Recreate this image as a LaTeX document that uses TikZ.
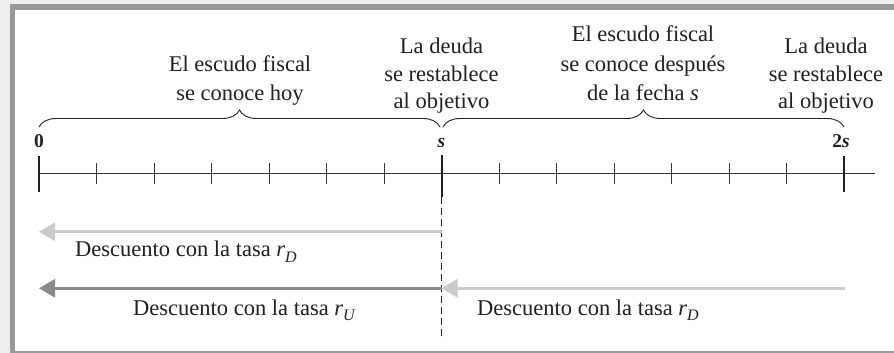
\documentclass[tikz,border=0pt]{standalone}
\usepackage{fontspec}
\setmainfont{Liberation Serif}
\usetikzlibrary{arrows.meta,decorations.pathreplacing}
\definecolor{bgcol}{HTML}{EEEEEE}
\definecolor{framecol}{HTML}{999999}
\definecolor{lightarr}{HTML}{CBCBCB}
\definecolor{darkarr}{HTML}{8A8A8A}
\definecolor{inkcol}{HTML}{231F20}
\newcommand{\lowsub}[1]{\raisebox{-0.25em}{\fontsize{16}{16}\selectfont\itshape #1}}
\begin{document}
\begin{tikzpicture}[x=1pt,y=-1pt,
  lbl/.style={inner sep=0pt, font=\fontsize{22.5}{26}\selectfont, text=inkcol},
  num/.style={inner sep=0pt, font=\fontsize{19.5}{22}\selectfont\bfseries, text=inkcol},
  axisline/.style={draw=inkcol!90, line width=1.3pt},
  minortick/.style={draw=inkcol!90, line width=1pt},
  majortick/.style={draw=inkcol, line width=2pt},
  bracestyle/.style={draw=inkcol, line width=0.9pt, decorate, decoration={brace, amplitude=17pt}},
  dashline/.style={draw=inkcol, line width=1pt, dash pattern=on 7pt off 4pt},
  lightarrow/.style={draw=lightarr, line width=3pt, -{Triangle[length=16pt,width=18pt]}},
  darkarrow/.style={draw=darkarr, line width=3pt, -{Triangle[length=16pt,width=18pt]}}
]
\fill[bgcol] (0,0) rectangle (894,353);
\useasboundingbox (0,0) rectangle (894,353);
\fill[framecol] (10,4) rectangle (894,353);
\fill[white] (15,10) rectangle (894,350.5);

% axis
\coordinate (A0) at (39,173.3);
\coordinate (AS) at (441.5,173.3);
\coordinate (A2) at (844,173.3);
\coordinate (AE) at (875,173.3);
\draw[axisline] (A0) -- (AE);
\foreach \k in {1,...,6,8,9,10,11,12,13}
  \draw[minortick] ({39+57.5*\k},163) -- ({39+57.5*\k},183.5);
\draw[majortick] (39,156) -- (39,191.5);
\draw[majortick] (844,156) -- (844,191.5);
\draw[majortick] (441.5,155) -- (441.5,197);
\coordinate (Dtop) at (441.5,197);
\coordinate (Dbot) at (441.5,340);
\draw[dashline] (Dtop) -- (Dbot);

% numbers
\node[num, anchor=base] (n0) at (39,147.5) {0};
\node[num, anchor=base] (ns) at (441.5,147.5) {\textit{s}};
\node[num, anchor=base] (n2s) at (841,147.5) {2\textit{s}};

% braces
\coordinate (B1a) at (39,127);
\coordinate (B1b) at (440,127);
\coordinate (B2a) at (443,127);
\coordinate (B2b) at (844,127);
\draw[bracestyle] (B1a) -- (B1b);
\draw[bracestyle] (B2a) -- (B2b);

% top texts
\node[lbl, anchor=base] (t1a) at (240,71.5) {El escudo fiscal};
\node[lbl, anchor=base] (t1b) at (240,100) {se conoce hoy};
\node[lbl, anchor=base] (t2a) at (441.5,54) {La deuda};
\node[lbl, anchor=base] (t2b) at (441.5,81.5) {se restablece};
\node[lbl, anchor=base] (t2c) at (441.5,108.5) {al objetivo};
\node[lbl, anchor=base] (t3a) at (643,41.5) {El escudo fiscal};
\node[lbl, anchor=base] (t3b) at (643,71) {se conoce después};
\node[lbl, anchor=base] (t3c) at (643,100) {de la fecha \textit{s}};
\node[lbl, anchor=base] (t4a) at (826,54) {La deuda};
\node[lbl, anchor=base] (t4b) at (826,81.5) {se restablece};
\node[lbl, anchor=base] (t4c) at (826,108.5) {al objetivo};

% arrows
\coordinate (R1s) at (441.5,231.7);
\coordinate (R1e) at (39,231.7);
\coordinate (R2s) at (441.5,288.3);
\coordinate (R2e) at (39,288.3);
\coordinate (R3s) at (845,288.3);
\coordinate (R3e) at (441.5,288.3);
\draw[lightarrow] (R1s) -- (R1e);
\draw[darkarrow] (R2s) -- (R2e);
\draw[lightarrow] (R3s) -- (R3e);

\node[lbl, anchor=base west] (d1) at (75,256.5) {Descuento con la tasa \textit{r}\lowsub{D}};
\node[lbl, anchor=base west] (d2) at (133,315) {Descuento con la tasa \textit{r}\lowsub{U}};
\node[lbl, anchor=base west] (d3) at (477,315) {Descuento con la tasa \textit{r}\lowsub{D}};
\end{tikzpicture}
\end{document}
